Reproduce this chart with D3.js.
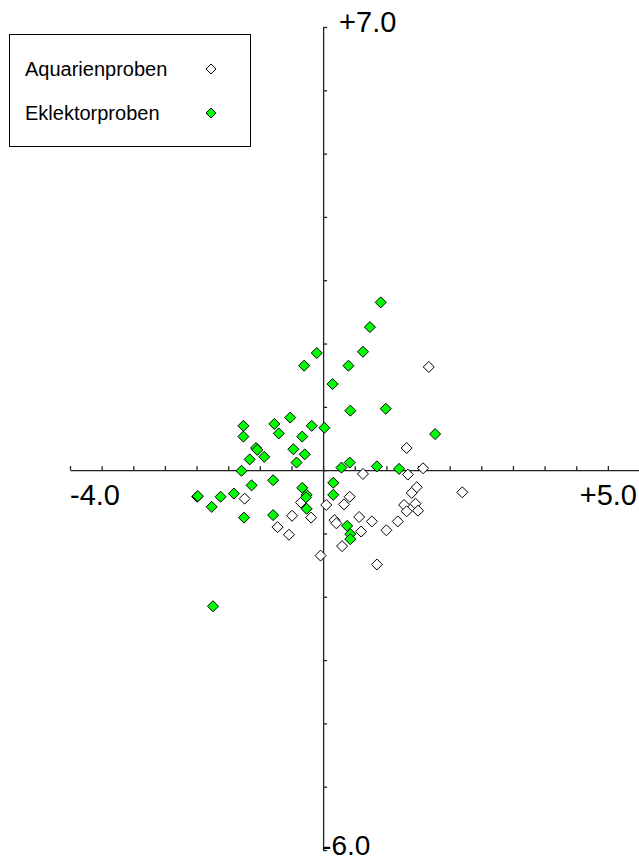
<!DOCTYPE html>
<html>
<head>
<meta charset="utf-8">
<script src="https://cdn.jsdelivr.net/npm/d3@7"></script>
<style>
  body { margin: 0; background: #fff; }
  svg { display: block; font-family: Arial, "Liberation Sans", sans-serif; }
</style>
</head>
<body>
<div class="plot"></div>
<script>
// Aquarienproben (open diamonds)
var aquaX = [1.67, 1.32, 0.63, 1.34, 1.58, 0.42, 0.33, 0.05, 1.48, 1.40, 2.20, 1.28, 1.46, 1.32, 1.50,
             0.18, 0.21, 0.57, 0.77, 0.60, 1.18, 1.00, 0.30, 0.85, -0.04, -1.24, -0.35, -0.49, -0.19, -0.72, -0.54];
var aquaY = [1.63, 0.35, -0.06, -0.07, 0.03, -0.42, -0.54, -0.55, -0.27, -0.36, -0.35, -0.55, -0.53, -0.65, -0.64,
             -0.79, -0.84, -0.74, -0.81, -0.97, -0.81, -0.95, -1.20, -1.49, -1.35, -0.45, -0.51, -0.72, -0.75, -0.90, -1.02];

// Eklektorproben (green diamonds)
var eklX = [0.91, 0.74, 0.63, -0.10, -0.30, 0.40, 0.15, 0.43, 0.99, -0.52, -1.26, -0.77, -0.70, -0.18, 0.02,
            1.77, -1.26, -0.33, -1.06, -1.04, -1.16, -0.93, -0.47, -0.29, -0.42, -1.29, 0.29, 0.42, 0.85, 1.20,
            -1.13, -0.79, -0.33, -0.26, -0.27, 0.16, 0.16, -1.99, -1.98, -1.62, -1.41, -1.76, -1.25, -0.79, -0.26,
            0.38, 0.43, 0.43, -1.74];
var eklY = [2.65, 2.26, 1.87, 1.85, 1.65, 1.65, 1.36, 0.94, 0.97, 0.83, 0.70, 0.73, 0.58, 0.70, 0.67,
            0.57, 0.53, 0.53, 0.35, 0.32, 0.17, 0.21, 0.33, 0.25, 0.12, -0.01, 0.04, 0.12, 0.06, 0.02,
            -0.24, -0.16, -0.28, -0.39, -0.43, -0.20, -0.39, -0.42, -0.41, -0.42, -0.37, -0.58, -0.75, -0.71, -0.61,
            -0.88, -1.01, -1.09, -2.15];

var seriesNames = ["Aquarienproben", "Eklektorproben"];
var seriesFill = ["#ffffff", "#00ff00"];
var xTicks = d3.range(-4, 5.001, 0.5);
var yTicks = d3.range(-6, 7.001, 1);

var width = 639, height = 860;

var svg = d3.select(".plot").append("svg")
  .attr("width", width)
  .attr("height", height);

var x = d3.scaleLinear().domain([-4, 5]).range([70, 639.5]);
var y = d3.scaleLinear().domain([-6, 7]).range([850, 27]);

function diamond(r) {
  return "M0," + (-r) + "L" + r + ",0L0," + r + "L" + (-r) + ",0Z";
}

// axes crossing at the origin
var xAxis = svg.append("g")
  .attr("transform", "translate(0," + y(0) + ")")
  .call(d3.axisTop(x).tickValues(xTicks).tickSize(4).tickSizeOuter(0).tickFormat(""));
var yAxis = svg.append("g")
  .attr("transform", "translate(" + x(0) + ",0)")
  .call(d3.axisRight(y).tickValues(yTicks).tickSize(4).tickSizeOuter(0).tickFormat(""));
svg.selectAll(".domain, .tick line")
  .attr("stroke", "#222")
  .attr("stroke-width", 1.3);

// end labels
svg.append("text").attr("x", 70).attr("y", 505)
  .style("font-size", "29px").text("-4.0");
svg.append("text").attr("x", 637).attr("y", 505)
  .style("font-size", "29px").style("text-anchor", "end").text("+5.0");
svg.append("text").attr("x", x(0) + 16).attr("y", 32)
  .style("font-size", "29px").text("+7.0");
svg.append("text").attr("x", x(0) - 1).attr("y", 855)
  .style("font-size", "28px").text("-6.0");

// points
var aqua = aquaX.map(function(v, i) { return [v, aquaY[i]]; });
var ekl = eklX.map(function(v, i) { return [v, eklY[i]]; });

svg.append("g").selectAll("path")
  .data(aqua)
  .enter()
  .append("path")
  .attr("d", diamond(5.5))
  .attr("transform", function(d) { return "translate(" + x(d[0]) + "," + y(d[1]) + ")"; })
  .style("fill", seriesFill[0])
  .style("stroke", "#000")
  .style("stroke-width", 1);

svg.append("g").selectAll("path")
  .data(ekl)
  .enter()
  .append("path")
  .attr("d", diamond(5.5))
  .attr("transform", function(d) { return "translate(" + x(d[0]) + "," + y(d[1]) + ")"; })
  .style("fill", seriesFill[1])
  .style("stroke", "#000")
  .style("stroke-width", 1);

// legend
var legend = svg.append("g");
legend.append("rect")
  .attr("x", 9.5).attr("y", 34.5)
  .attr("width", 241).attr("height", 112)
  .style("fill", "#fff")
  .style("stroke", "#000")
  .style("stroke-width", 1);

legend.selectAll("text")
  .data(seriesNames)
  .enter()
  .append("text")
  .attr("x", 25)
  .attr("y", function(d, i) { return 76 + 44 * i; })
  .style("font-size", "20px")
  .text(function(d) { return d; });

legend.selectAll("path")
  .data(seriesNames)
  .enter()
  .append("path")
  .attr("d", diamond(5))
  .attr("transform", function(d, i) { return "translate(211," + (69 + 44 * i) + ")"; })
  .style("fill", function(d, i) { return seriesFill[i]; })
  .style("stroke", "#000")
  .style("stroke-width", 1);
</script>
</body>
</html>
